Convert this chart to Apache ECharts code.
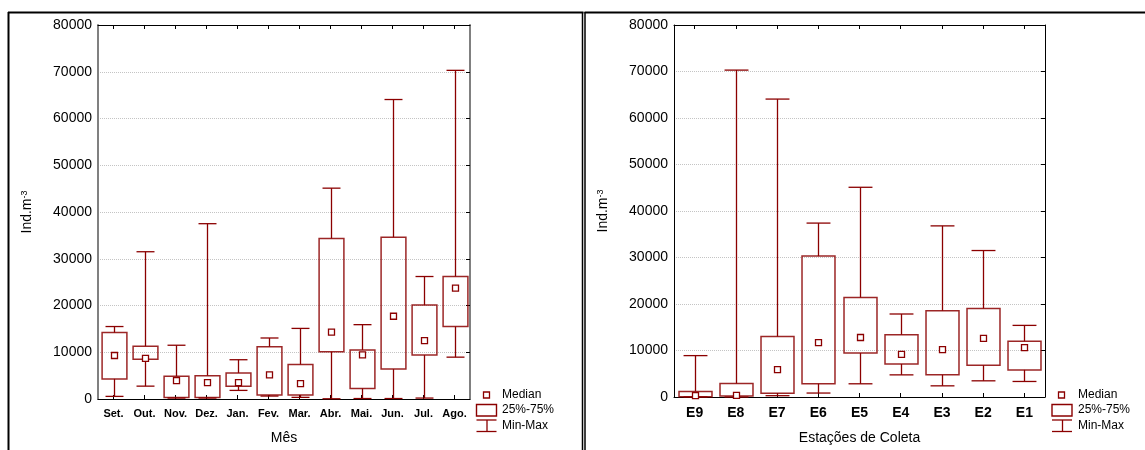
<!DOCTYPE html>
<html>
<head>
<meta charset="utf-8">
<title>Ind.m-3 por mês e estação</title>
<script src="https://cdn.jsdelivr.net/npm/echarts@6/dist/echarts.min.js"></script>
<style>
  html, body { margin: 0; padding: 0; background: #fff; }
  #chart { width: 1145px; height: 450px; }
</style>
</head>
<body>
<div id="chart"></div>
<script>
// Monthly distribution (min, quartiles, median, max)
const meses  = ['Set.', 'Out.', 'Nov.', 'Dez.', 'Jan.', 'Fev.', 'Mar.', 'Abr.', 'Mai.', 'Jun.', 'Jul.', 'Ago.'];
const mesMin = [560, 2750, 200, 200, 1840, 630, 350, 50, 100, 100, 200, 8950];
const mesQ1  = [4300, 8500, 300, 300, 2750, 850, 850, 10100, 2260, 6400, 9400, 15500];
const mesMed = [9300, 8700, 3950, 3500, 3500, 5150, 3300, 14300, 9450, 17700, 12500, 23700];
const mesQ3  = [14200, 11300, 4870, 5000, 5570, 11200, 7400, 34350, 10500, 34600, 20100, 26200];
const mesMax = [15500, 31500, 11500, 37500, 8400, 13050, 15100, 45100, 15900, 64060, 26200, 70300];

// Distribution per sampling station
const estacoes = ['E9', 'E8', 'E7', 'E6', 'E5', 'E4', 'E3', 'E2', 'E1'];
const estMin = [0, 0, 280, 850, 2840, 4760, 2400, 3480, 3340];
const estQ1  = [70, 200, 780, 2840, 9460, 7100, 4760, 6830, 5830];
const estMed = [280, 350, 5900, 11700, 12800, 9170, 10200, 12600, 10600];
const estQ3  = [1200, 2920, 13000, 30300, 21400, 13400, 18560, 19050, 12000];
const estMax = [8900, 70300, 64070, 37400, 45100, 17850, 36800, 31500, 15400];

const yTicks = [0, 10000, 20000, 30000, 40000, 50000, 60000, 70000, 80000];

const RED = '#8b0000';
const FONT = 'Liberation Sans, Arial, sans-serif';

function rows(cats, mn, q1, md, q3, mx) {
  return cats.map((c, i) => [i, mn[i], q1[i], md[i], q3[i], mx[i]]);
}

function renderBox(params, api) {
  const i = api.value(0);
  const band = api.size([1, 0])[0];
  const bw = band * 0.8, cw = band * 0.58;
  const pMin = api.coord([i, api.value(1)]);
  const pQ1 = api.coord([i, api.value(2)]);
  const pMed = api.coord([i, api.value(3)]);
  const pQ3 = api.coord([i, api.value(4)]);
  const pMax = api.coord([i, api.value(5)]);
  const x = Math.round(pMed[0]) + 0.5;
  const ls = { stroke: RED, lineWidth: 1.3, fill: null };
  return {
    type: 'group',
    children: [
      { type: 'line', shape: { x1: x, y1: pMax[1], x2: x, y2: pQ3[1] }, style: ls },
      { type: 'line', shape: { x1: x, y1: pQ1[1], x2: x, y2: pMin[1] }, style: ls },
      { type: 'line', shape: { x1: x - cw / 2, y1: pMax[1], x2: x + cw / 2, y2: pMax[1] }, style: ls },
      { type: 'line', shape: { x1: x - cw / 2, y1: pMin[1], x2: x + cw / 2, y2: pMin[1] }, style: ls },
      { type: 'rect', shape: { x: x - bw / 2, y: pQ3[1], width: bw, height: pQ1[1] - pQ3[1] },
        style: { stroke: RED, lineWidth: 1.5, fill: null, opacity: 0.85 } },
      { type: 'rect', shape: { x: x - 3, y: pMed[1] - 3, width: 6, height: 6 },
        style: { stroke: RED, lineWidth: 1.3, fill: '#fff' } }
    ]
  };
}

function catAxis(grid, data, pos, showLabel, lineColor, labelSize) {
  return {
    type: 'category', gridIndex: grid, data: data, position: pos,
    boundaryGap: true,
    axisLine: { show: true, onZero: false, lineStyle: { color: lineColor, width: 1 } },
    axisTick: { show: true, inside: true, alignWithLabel: true, interval: 0, length: 4, lineStyle: { color: '#000' } },
    axisLabel: { show: showLabel, interval: 0, color: '#000', fontFamily: FONT, fontWeight: 'bold', fontSize: labelSize, margin: 9 },
    splitLine: { show: false }
  };
}

function valAxis(grid, pos, main, lineColor, lineWidth) {
  return {
    type: 'value', gridIndex: grid, position: pos,
    min: yTicks[0], max: yTicks[yTicks.length - 1], interval: yTicks[1] - yTicks[0],
    axisLine: { show: true, lineStyle: { color: lineColor, width: lineWidth } },
    axisTick: { show: !main, inside: true, length: 4, lineStyle: { color: '#000' } },
    axisLabel: { show: main, color: '#000', fontFamily: FONT, fontSize: 14, margin: 6,
      formatter: v => String(v) },
    splitLine: { show: main, lineStyle: { color: '#c4c4c4', type: [1, 1], width: 1 } }
  };
}

const yName = '{a|Ind.m}{s|-3}';
const yRich = {
  a: { fontFamily: FONT, fontSize: 14, color: '#000', verticalAlign: 'bottom' },
  s: { fontFamily: FONT, fontSize: 9, color: '#000', verticalAlign: 'top' }
};

function legend(x0, boxL, medX) {
  const t = (y, s) => ({ type: 'text', left: x0, top: y - 7,
    style: { text: s, fontFamily: FONT, fontSize: 12, fill: '#000' } });
  const st = { stroke: RED, lineWidth: 1.3, fill: null };
  return [
    { type: 'rect', shape: { x: medX - 3, y: 392, width: 6, height: 6 }, style: { stroke: RED, lineWidth: 1.3, fill: '#fff' } },
    { type: 'rect', shape: { x: boxL, y: 404.5, width: 20, height: 11.5 }, style: { stroke: RED, lineWidth: 1.4, fill: null } },
    { type: 'line', shape: { x1: boxL, y1: 420, x2: boxL + 20, y2: 420 }, style: st },
    { type: 'line', shape: { x1: boxL, y1: 431.5, x2: boxL + 20, y2: 431.5 }, style: st },
    { type: 'line', shape: { x1: boxL + 10.5, y1: 420, x2: boxL + 10.5, y2: 431.5 }, style: st },
    t(395.7, 'Median'), t(411, '25%-75%'), t(426.7, 'Min-Max')
  ];
}

const frame = { stroke: '#000', lineWidth: 2 };
const option = {
  animation: false,
  backgroundColor: '#fff',
  grid: [
    { left: 98, right: 675, top: 25, bottom: 47 },
    { left: 674, right: 100, top: 25, bottom: 50 }
  ],
  xAxis: [
    Object.assign(catAxis(0, meses, 'bottom', true, '#000', 11), {
      name: 'Mês', nameLocation: 'middle', nameGap: 32,
      nameTextStyle: { fontFamily: FONT, fontSize: 14, color: '#000' }
    }),
    catAxis(0, meses, 'top', false, '#000', 11),
    Object.assign(catAxis(1, estacoes, 'bottom', true, '#000', 14), {
      name: 'Estações de Coleta', nameLocation: 'middle', nameGap: 34,
      nameTextStyle: { fontFamily: FONT, fontSize: 14, color: '#000' }
    }),
    catAxis(1, estacoes, 'top', false, '#000', 14)
  ],
  yAxis: [
    Object.assign(valAxis(0, 'left', true, '#808080', 2), {
      name: yName, nameLocation: 'middle', nameGap: 64, nameRotate: 90,
      nameTextStyle: { rich: yRich }
    }),
    valAxis(0, 'right', false, '#808080', 2),
    Object.assign(valAxis(1, 'left', true, '#000', 1), {
      name: yName, nameLocation: 'middle', nameGap: 64, nameRotate: 90,
      nameTextStyle: { rich: yRich }
    }),
    valAxis(1, 'right', false, '#000', 1)
  ],
  series: [
    {
      type: 'custom', name: 'Mês', xAxisIndex: 0, yAxisIndex: 0,
      renderItem: renderBox, encode: { x: 0, y: [1, 2, 3, 4, 5] },
      data: rows(meses, mesMin, mesQ1, mesMed, mesQ3, mesMax), z: 3
    },
    {
      type: 'custom', name: 'Estações de Coleta', xAxisIndex: 2, yAxisIndex: 2,
      renderItem: renderBox, encode: { x: 0, y: [1, 2, 3, 4, 5] },
      data: rows(estacoes, estMin, estQ1, estMed, estQ3, estMax), z: 3
    }
  ],
  graphic: [
    { type: 'line', shape: { x1: 8.5, y1: 12, x2: 8.5, y2: 450 }, style: frame },
    { type: 'line', shape: { x1: 8, y1: 12.5, x2: 583.5, y2: 12.5 }, style: frame },
    { type: 'line', shape: { x1: 582.5, y1: 12, x2: 582.5, y2: 450 }, style: { stroke: '#000', lineWidth: 1.5 } },
    { type: 'line', shape: { x1: 585, y1: 12, x2: 585, y2: 450 }, style: { stroke: '#000', lineWidth: 1.5 } },
    { type: 'line', shape: { x1: 584.5, y1: 12.5, x2: 1145, y2: 12.5 }, style: frame }
  ].concat(legend(502, 476.5, 486.5), legend(1078, 1052, 1061.5))
};

const chart = echarts.init(document.getElementById('chart'), null, { renderer: 'canvas' });
chart.setOption(option);
</script>
</body>
</html>
